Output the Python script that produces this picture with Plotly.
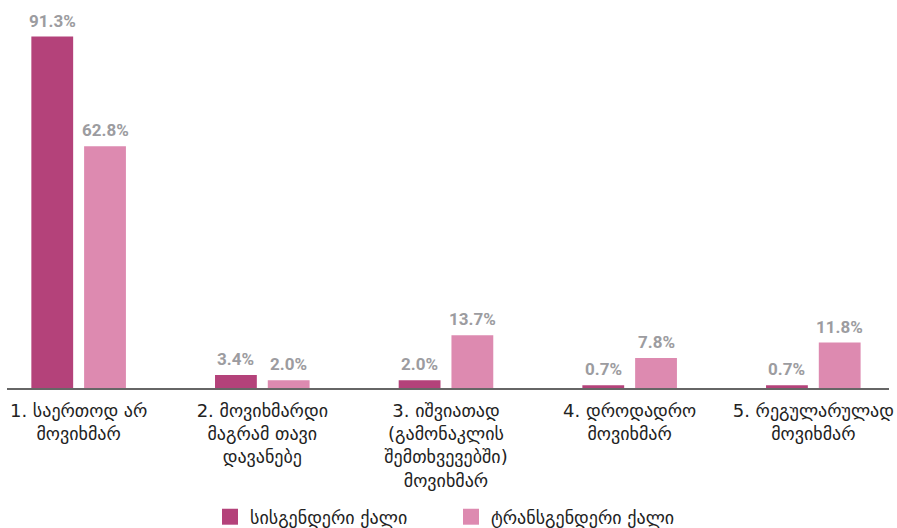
import plotly.graph_objects as go

categories = [
    "1. საერთოდ არ<br>მოვიხმარ",
    "2. მოვიხმარდი<br>მაგრამ თავი<br>დავანებე",
    "3. იშვიათად<br>(გამონაკლის<br>შემთხვევებში)<br>მოვიხმარ",
    "4. დროდადრო<br>მოვიხმარ",
    "5. რეგულარულად<br>მოვიხმარ",
]
series_names = ["სისგენდერი ქალი", "ტრანსგენდერი ქალი"]
cis_values = [91.3, 3.4, 2.0, 0.7, 0.7]
trans_values = [62.8, 2.0, 13.7, 7.8, 11.8]

cis_color = "#B4427A"
trans_color = "#DD8AB0"
label_color = "#9C9CA0"

fig = go.Figure()
for name, vals, col in [(series_names[0], cis_values, cis_color),
                        (series_names[1], trans_values, trans_color)]:
    fig.add_trace(go.Bar(
        x=categories, y=vals, name=name, marker_color=col,
        marker_line_width=0, showlegend=False, hoverinfo="x+y",
    ))
    fig.add_trace(go.Scatter(
        x=[None], y=[None], mode="markers", name=name,
        marker=dict(symbol="square", size=20, color=col),
        showlegend=True,
    ))

# value labels above bars
offsets = [-26.5, 26.5]
for off, vals in zip(offsets, [cis_values, trans_values]):
    for cat, v in zip(categories, vals):
        fig.add_annotation(
            x=cat, y=v, xref="x", yref="y", text=f"{v:.1f}%",
            showarrow=False, xshift=off, yanchor="bottom", yshift=4,
            font=dict(family="Roboto", size=17, color=label_color, weight="bold"),
        )

fig.update_layout(
    width=897, height=528,
    margin=dict(l=7, r=4, t=3, b=140),
    paper_bgcolor="white", plot_bgcolor="white",
    barmode="group", bargap=0.4255, bargroupgap=0.2075,
    font=dict(family="DejaVu Sans", size=18, color="#222222"),
    legend=dict(orientation="h", xref="container", yref="container",
                x=210 / 897, xanchor="left", y=1 - 517 / 528, yanchor="middle",
                font=dict(size=18, color="#222222"), itemsizing="trace",
                entrywidthmode="pixels", entrywidth=196),
    xaxis=dict(type="category", range=[-0.39, 4.412], showline=True,
               linecolor="#666666", linewidth=2, ticks="", showgrid=False,
               ticklabelstandoff=5,
               tickfont=dict(size=18, color="#222222")),
    yaxis=dict(range=[0, 100], visible=False, showgrid=False),
)
fig.write_html("out.html", config={"displayModeBar": False},
               post_script="document.body.style.margin='0';")
